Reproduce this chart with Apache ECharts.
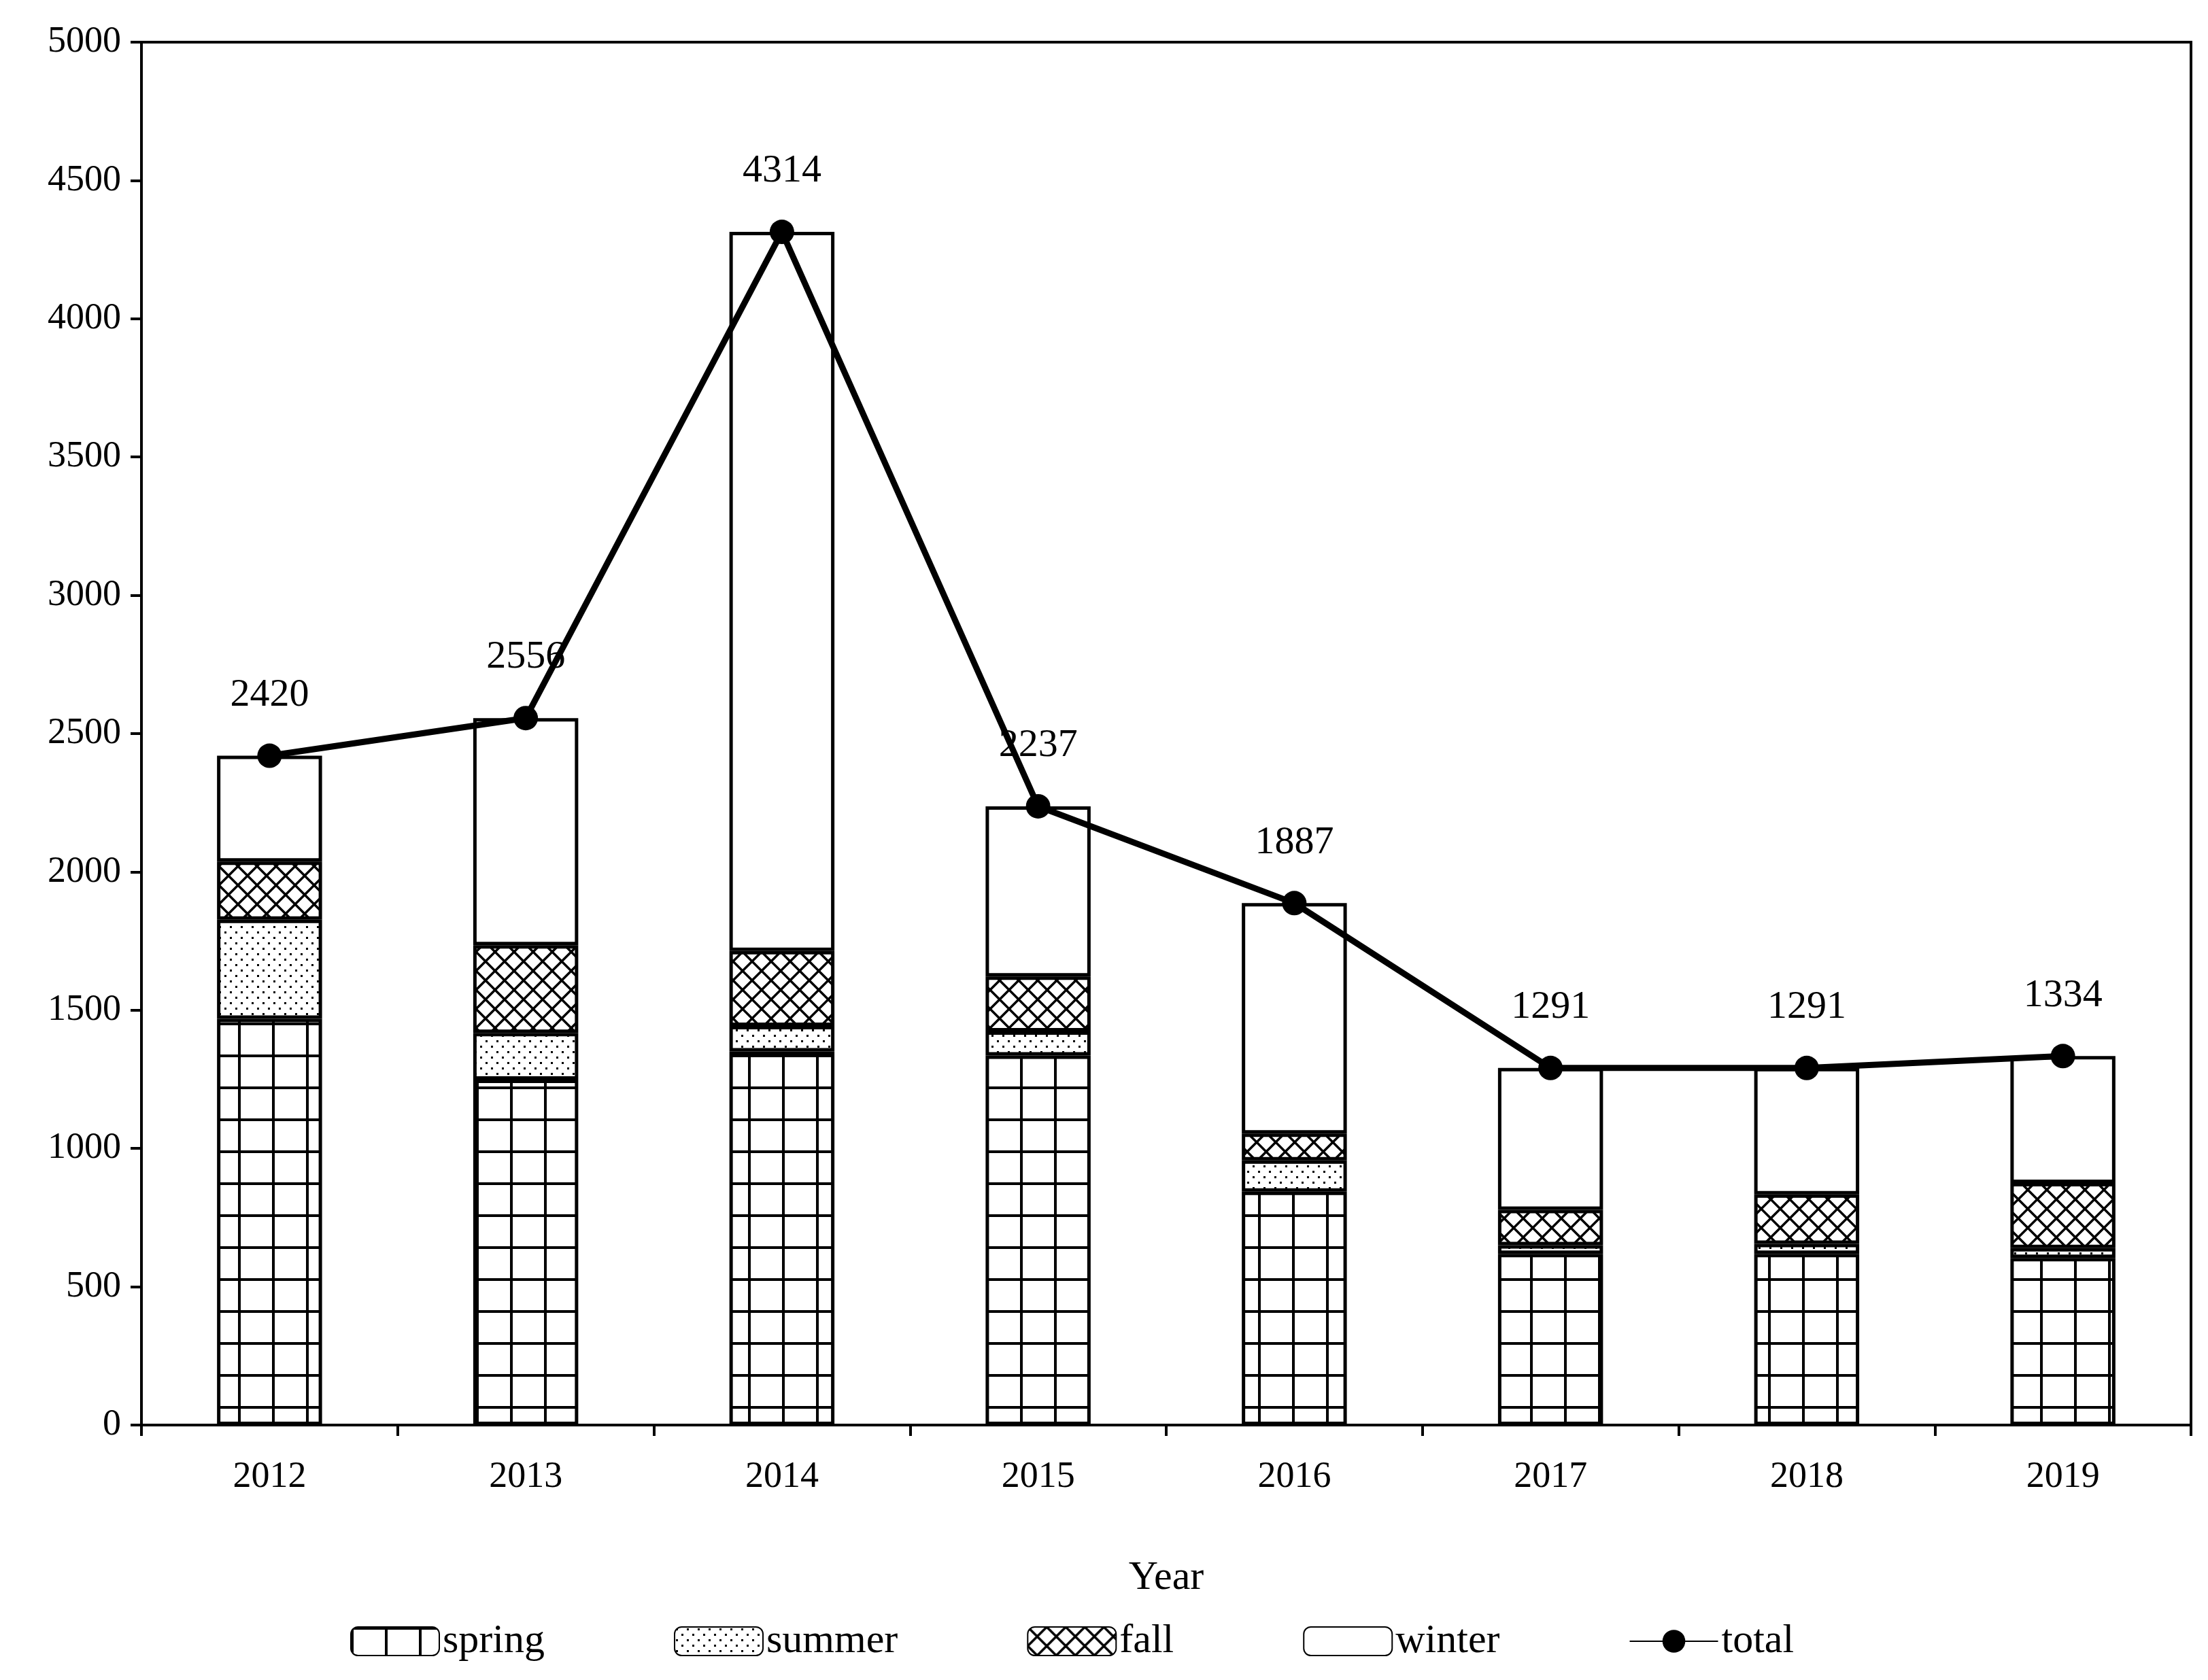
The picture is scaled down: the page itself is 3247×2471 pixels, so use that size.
<!DOCTYPE html>
<html>
<head>
<meta charset="utf-8">
<script src="https://cdn.jsdelivr.net/npm/echarts@6/dist/echarts.min.js"></script>
<style>html,body{margin:0;background:#fff}#chart{width:3247px;height:2471px}</style>
</head>
<body>
<div id="chart"></div>
<script>
var years = ['2012', '2013', '2014', '2015', '2016', '2017', '2018', '2019'];
var spring = [1469, 1249, 1351, 1336, 844, 619, 619, 604];
var summer = [358, 169, 92, 87, 113, 31, 36, 36];
var fall = [210, 317, 271, 199, 97, 128, 179, 235];
var total = [2420, 2556, 4314, 2237, 1887, 1291, 1291, 1334];
var winter = total.map(function (t, i) { return t - spring[i] - summer[i] - fall[i]; });

var FONT = 'Liberation Serif';

// 纹理画布
function makePattern(kind) {
  var c = document.createElement('canvas');
  var ctx = c.getContext('2d');
  if (kind === 'grid') {
    c.width = 50; c.height = 47;
    ctx.fillStyle = '#fff'; ctx.fillRect(0, 0, 50, 47);
    ctx.fillStyle = '#000';
    ctx.fillRect(0, 0, 4, 47);
    ctx.fillRect(0, 0, 50, 4);
  } else if (kind === 'dots') {
    c.width = 16; c.height = 16;
    ctx.fillStyle = '#fff'; ctx.fillRect(0, 0, 16, 16);
    ctx.fillStyle = '#000';
    ctx.fillRect(2, 2, 3, 3);
    ctx.fillRect(10, 10, 3, 3);
  } else {
    c.width = 28; c.height = 28;
    ctx.fillStyle = '#fff'; ctx.fillRect(0, 0, 28, 28);
    ctx.strokeStyle = '#000'; ctx.lineWidth = 3.5;
    ctx.beginPath();
    ctx.moveTo(0, 0); ctx.lineTo(28, 28);
    ctx.moveTo(28, 0); ctx.lineTo(0, 28);
    ctx.stroke();
  }
  return { image: c, repeat: 'repeat' };
}

function barSeries(name, data, color) {
  return {
    name: name, type: 'bar', stack: 'all', data: data, barWidth: '41%',
    itemStyle: { color: color, borderColor: '#000', borderWidth: 5 }
  };
}

var chart = echarts.init(document.getElementById('chart'));
chart.setOption({
  animation: false,
  backgroundColor: '#fff',
  textStyle: { fontFamily: FONT, color: '#000' },
  grid: { left: 208, right: 25, top: 62, bottom: 375, show: true, borderColor: '#000', borderWidth: 4, backgroundColor: 'transparent' },
  legend: {
    bottom: 22, left: 510, itemWidth: 130, itemHeight: 42, itemGap: 190,
    textStyle: { fontSize: 60, fontFamily: FONT, color: '#000' },
    data: ['spring', 'summer', 'fall', 'winter', 'total']
  },
  xAxis: {
    type: 'category', data: years, name: 'Year', nameLocation: 'middle', nameGap: 195,
    nameTextStyle: { fontSize: 60, fontFamily: FONT, color: '#000' },
    axisLine: { lineStyle: { color: '#000', width: 4 } },
    axisTick: { show: true, length: 16, lineStyle: { color: '#000', width: 4 } },
    axisLabel: { fontSize: 54, margin: 50, color: '#000', fontFamily: FONT }
  },
  yAxis: {
    type: 'value', min: 0, max: 5000, interval: 500,
    splitLine: { show: false },
    axisLine: { show: true, lineStyle: { color: '#000', width: 4 } },
    axisTick: { show: true, length: 16, lineStyle: { color: '#000', width: 4 } },
    axisLabel: { fontSize: 54, margin: 30, color: '#000', fontFamily: FONT, formatter: function (v) { return String(v); } }
  },
  series: [
    barSeries('spring', spring, makePattern('grid')),
    barSeries('summer', summer, makePattern('dots')),
    barSeries('fall', fall, makePattern('cross')),
    barSeries('winter', winter, '#fff'),
    {
      name: 'total', type: 'line', data: total, symbol: 'circle', symbolSize: 36,
      itemStyle: { color: '#000' }, lineStyle: { color: '#000', width: 9 },
      label: { show: true, position: 'top', distance: 42, fontSize: 58, color: '#000', fontFamily: FONT }
    }
  ]
});
</script>
</body>
</html>
